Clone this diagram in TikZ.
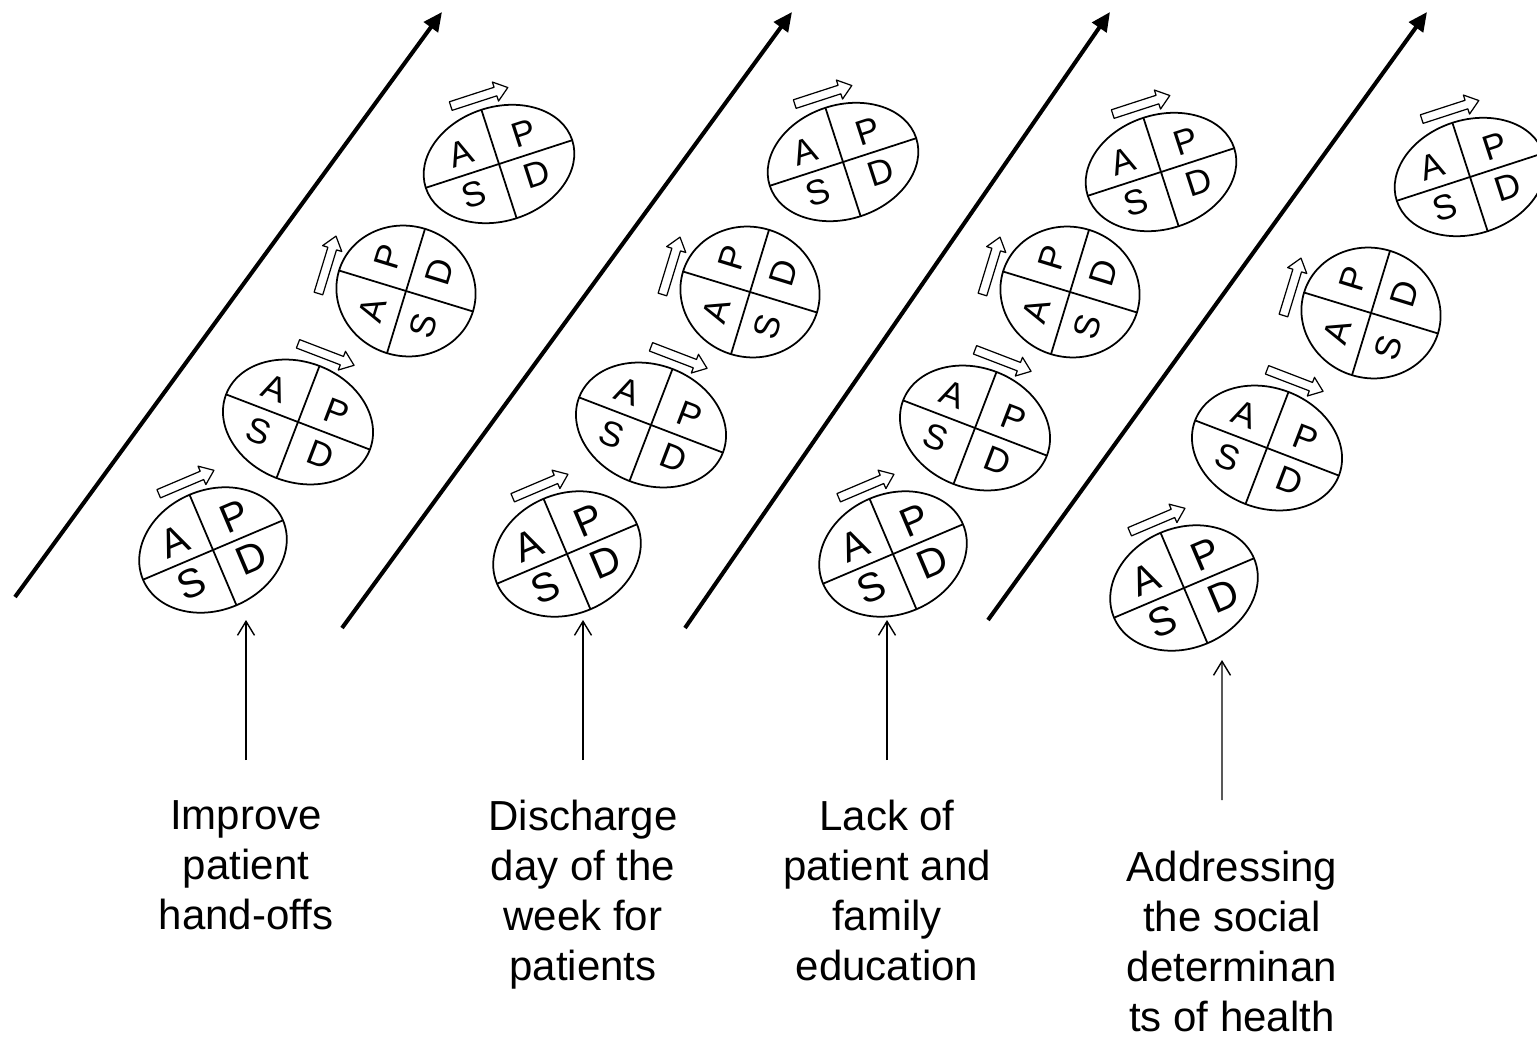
\documentclass[tikz,border=0pt]{standalone}
\usepackage{fontspec}
\setmainfont{Liberation Sans}
\usetikzlibrary{arrows.meta}

\newcommand\pdsabig{\fontsize{23pt}{27pt}\selectfont}
\newcommand\pdsasmall{\fontsize{20pt}{24pt}\selectfont}

\tikzset{
  cyc/.style={line width=1pt},
  flow/.style={line width=2.3pt, -{Triangle[length=0.38cm,width=0.34cm]}},
  pointer/.style={line width=0.8pt, -{Straight Barb[length=0.28cm,width=0.34cm]}},
  hollow/.style={line width=0.7pt, fill=white},
  goal/.style={align=center, inner sep=0pt, anchor=north, font=\fontsize{23.9pt}{28.45pt}\selectfont},
  % rotation, x radius, y radius, letter size
  pics/pdsa/.style n args={4}{code={
    \begin{scope}[rotate=#1]
      \draw[cyc] (0,0) ellipse [x radius=#2, y radius=#3];
      \draw[cyc] (-#2,0) -- (#2,0) (0,-#3) -- (0,#3);
      \node[rotate=#1, font=#4] (-A) at ({-0.43*#2},{-0.38*#3}) {A};
      \node[rotate=#1, font=#4] (-P) at ({0.43*#2},{-0.38*#3}) {P};
      \node[rotate=#1, font=#4] (-S) at ({-0.43*#2},{0.38*#3}) {S};
      \node[rotate=#1, font=#4] (-D) at ({0.43*#2},{0.38*#3}) {D};
      \draw[hollow] (-28,{-#3-17.5}) -- (19,{-#3-17.5}) -- (19,{-#3-23}) -- (32,{-#3-13})
        -- (19,{-#3-3}) -- (19,{-#3-8.5}) -- (-28,{-#3-8.5}) -- cycle;
    \end{scope}
  }}
}

\begin{document}
\begin{tikzpicture}[x=0.02cm,y=-0.02cm,line join=round]
  \useasboundingbox (0,0) rectangle (1537,1040);
  \clip (0,0) rectangle (1537,1040);

  % time axes
  \coordinate (f1s) at (15,597);   \coordinate (f1e) at (442,12);
  \coordinate (f2s) at (342,628);  \coordinate (f2e) at (792,12);
  \coordinate (f3s) at (685,628);  \coordinate (f3e) at (1110,12);
  \coordinate (f4s) at (988,620);  \coordinate (f4e) at (1427,12);
  \draw[flow] (f1s) -- (f1e);
  \draw[flow] (f2s) -- (f2e);
  \draw[flow] (f3s) -- (f3e);
  \draw[flow] (f4s) -- (f4e);

  % cycles, first group
  \pic (a1) at (213,550) {pdsa={23}{76}{60}{\pdsabig}};
  \pic (a2) at (298,422) {pdsa={-21}{77}{60}{\pdsasmall}};
  \pic (a3) at (406,291) {pdsa={73}{65}{70}{\pdsasmall}};
  \pic (a4) at (499,164) {pdsa={18}{77}{57}{\pdsasmall}};
  % second group
  \pic (b1) at (567,554) {pdsa={23}{76}{60}{\pdsabig}};
  \pic (b2) at (651,425) {pdsa={-21}{77}{60}{\pdsasmall}};
  \pic (b3) at (750,292) {pdsa={73}{65}{70}{\pdsasmall}};
  \pic (b4) at (843,162) {pdsa={18}{77}{57}{\pdsasmall}};
  % third group
  \pic (c1) at (893,554) {pdsa={23}{76}{60}{\pdsabig}};
  \pic (c2) at (975,428) {pdsa={-21}{77}{60}{\pdsasmall}};
  \pic (c3) at (1070,292) {pdsa={73}{65}{70}{\pdsasmall}};
  \pic (c4) at (1161,172) {pdsa={18}{77}{57}{\pdsasmall}};
  % fourth group
  \pic (d1) at (1184,588) {pdsa={23}{76}{60}{\pdsabig}};
  \pic (d2) at (1267,448) {pdsa={-21}{77}{60}{\pdsasmall}};
  \pic (d3) at (1371,313) {pdsa={73}{65}{70}{\pdsasmall}};
  \pic (d4) at (1470,177) {pdsa={18}{77}{57}{\pdsasmall}};

  % aims
  \node[goal] (t1) at (246,800) {Improve\\patient\\hand-offs};
  \node[goal] (t2) at (583,800) {Discharge\\day of the\\week for\\patients};
  \node[goal] (t3) at (887,800) {Lack of\\patient and\\family\\education};
  \node[goal] (t4) at (1232,851) {Addressing\\the social\\determinan\\ts of health};

  \coordinate (e1) at (246,620);
  \coordinate (e2) at (583,620);
  \coordinate (e3) at (887,620);
  \coordinate (e4) at (1222,660);
  \draw[pointer] ([yshift=0.8cm]t1.north) -- (e1);
  \draw[pointer] ([yshift=0.8cm]t2.north) -- (e2);
  \draw[pointer] ([yshift=0.8cm]t3.north) -- (e3);
  \draw[pointer] ([xshift=-0.2cm,yshift=1.02cm]t4.north) -- (e4);
\end{tikzpicture}
\end{document}
